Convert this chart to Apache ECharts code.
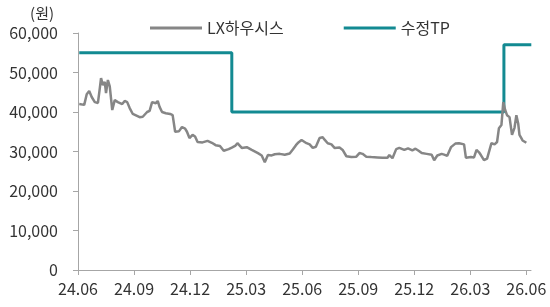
<!DOCTYPE html>
<html>
<head>
<meta charset="utf-8">
<script src="https://cdn.jsdelivr.net/npm/echarts@6/dist/echarts.min.js"></script>
<style>
  html, body { margin: 0; padding: 0; background: #fff; }
  #chart { width: 550px; height: 307px; }
</style>
</head>
<body>
<div id="chart"></div>
<script>
// LX하우시스 주가 (날짜: YY.MM.DD)
var priceDates = [
  '24.06.03','24.06.04','24.06.11','24.06.15','24.06.19','24.06.23','24.06.28','24.07.03','24.07.06','24.07.08',
  '24.07.11','24.07.14','24.07.16','24.07.19','24.07.22','24.07.26','24.07.30','24.08.05','24.08.12','24.08.16',
  '24.08.20','24.08.24','24.08.29','24.09.02','24.09.10','24.09.15','24.09.22','24.09.26','24.09.30','24.10.03',
  '24.10.06','24.10.09','24.10.12','24.10.16','24.10.22','24.10.29','24.11.03','24.11.07','24.11.13','24.11.18',
  '24.11.23','24.11.26','24.11.30','24.12.05','24.12.09','24.12.13','24.12.21','24.12.29','25.01.06','25.01.12',
  '25.01.19','25.01.25','25.01.28','25.02.03','25.02.08','25.02.14','25.02.17','25.02.24','25.03.02','25.03.10',
  '25.03.20','25.03.26','25.03.31','25.04.06','25.04.12','25.04.17','25.04.25','25.05.03','25.05.11','25.05.16',
  '25.05.21','25.05.25','25.05.30','25.06.03','25.06.08','25.06.13','25.06.18','25.06.23','25.06.29','25.07.04',
  '25.07.07','25.07.12','25.07.18','25.07.23','25.08.01','25.08.06','25.08.12','25.08.20','25.08.28','25.09.03',
  '25.09.08','25.09.14','25.09.22','25.10.02','25.10.10','25.10.18','25.10.21','25.10.26','25.11.02','25.11.07',
  '25.11.15','25.11.21','25.11.28','25.12.03','25.12.08','25.12.13','25.12.21','25.12.29','26.01.03','26.01.08',
  '26.01.15','26.01.19','26.01.24','26.01.30','26.02.07','26.02.13','26.02.21','26.02.24','26.03.02','26.03.07',
  '26.03.11','26.03.15','26.03.18','26.03.23','26.03.28','26.04.05','26.04.10','26.04.14','26.04.17','26.04.21',
  '26.04.24','26.04.27','26.04.30','26.05.04','26.05.07','26.05.08','26.05.12','26.05.15','26.05.18','26.05.20',
  '26.05.25','26.06.01'
];
var priceValues = [
  42000,41500,41800,44500,45300,43800,42500,42300,46000,48600,
  46800,47600,44800,48100,46500,40500,43000,42500,42000,42800,
  42500,41000,39500,39200,38700,38800,40000,40300,42500,43000,
  42200,42800,41300,40000,39700,39500,39200,35000,35100,36200,
  35800,35000,33400,34200,33800,32400,32300,32700,32200,31600,
  31400,30200,29900,30600,31000,31500,32100,30900,31100,30400,
  29600,29000,27300,29100,29000,29300,29400,29200,29500,30500,
  31600,32300,32900,32400,32100,31800,30900,31200,33400,33600,
  33000,32100,31800,30900,31000,30400,28800,28600,28700,29600,
  29400,28700,28600,28500,28400,28400,29100,28300,30600,30900,
  30400,30800,30300,30700,30200,29600,29400,29200,27800,29000,
  29400,29200,28900,31100,32000,32100,31800,28400,28600,28500,
  30400,29800,29100,27800,28200,32100,31800,32400,35900,36700,
  42500,40500,39200,38700,38700,34200,36000,39200,37000,34200,
  32800,32200
];

// 수정TP
var tpDates = ['24.06.03', '25.02.08', '26.04.25', '26.06.09'];
var tpValues = [55000, 40000, 57000, 57000];

var xLabels = ['24.06', '24.09', '24.12', '25.03', '25.06', '25.09', '25.12', '26.03', '26.06'];
var yTicks = [0, 10000, 20000, 30000, 40000, 50000, 60000];

// months since 24.06
function toMonth(s) {
  var p = s.split('.');
  return (Number(p[0]) - 24) * 12 + (Number(p[1]) - 6) + (Number(p[2]) - 1) / 30;
}
function labelToMonth(s) {
  return toMonth(s + '.01');
}
function pairs(dates, vals) {
  return dates.map(function (d, i) { return [toMonth(d), vals[i]]; });
}

var tickMonths = xLabels.map(labelToMonth);

var chart = echarts.init(document.getElementById('chart'));
chart.setOption({
  animation: false,
  textStyle: { fontFamily: '"Noto Sans CJK KR", "Noto Sans", sans-serif' },
  grid: { left: 78, right: 19, top: 33, bottom: 37 },
  legend: {
    left: 145,
    top: 15,
    itemWidth: 52,
    itemHeight: 3,
    itemGap: 60,
    icon: 'rect',
    textStyle: { fontSize: 16, color: '#333' },
    data: ['LX하우시스', '수정TP']
  },
  xAxis: {
    type: 'value',
    min: 0,
    max: 24.25,
    splitLine: { show: false },
    axisLine: { lineStyle: { color: '#a6a6a6', width: 1 } },
    axisTick: { show: true, length: 5, customValues: tickMonths, lineStyle: { color: '#a6a6a6' } },
    axisLabel: {
      customValues: tickMonths,
      fontSize: 16,
      color: '#333',
      margin: 11,
      formatter: function (v) {
        var i = tickMonths.findIndex(function (m) { return Math.abs(m - v) < 0.01; });
        return i >= 0 ? xLabels[i] : '';
      }
    }
  },
  yAxis: {
    type: 'value',
    min: yTicks[0],
    max: yTicks[yTicks.length - 1],
    interval: 10000,
    name: '(원)',
    nameLocation: 'end',
    nameGap: 12,
    nameTextStyle: { fontSize: 15, color: '#333', align: 'right', padding: [0, 24, 0, 0] },
    splitLine: { show: false },
    axisLine: { show: true, lineStyle: { color: '#a6a6a6', width: 1 } },
    axisTick: { show: true, length: 5, lineStyle: { color: '#a6a6a6' } },
    axisLabel: {
      fontSize: 16,
      color: '#333',
      margin: 20,
      formatter: function (v) { return v.toLocaleString('en-US'); }
    }
  },
  series: [
    {
      name: 'LX하우시스',
      type: 'line',
      data: pairs(priceDates, priceValues),
      showSymbol: false,
      color: '#868686',
      lineStyle: { width: 2.5, color: '#868686' },
      z: 3
    },
    {
      name: '수정TP',
      type: 'line',
      step: 'end',
      data: pairs(tpDates, tpValues),
      showSymbol: false,
      color: '#138a92',
      lineStyle: { width: 3, color: '#138a92' },
      z: 2
    }
  ]
});
</script>
</body>
</html>
